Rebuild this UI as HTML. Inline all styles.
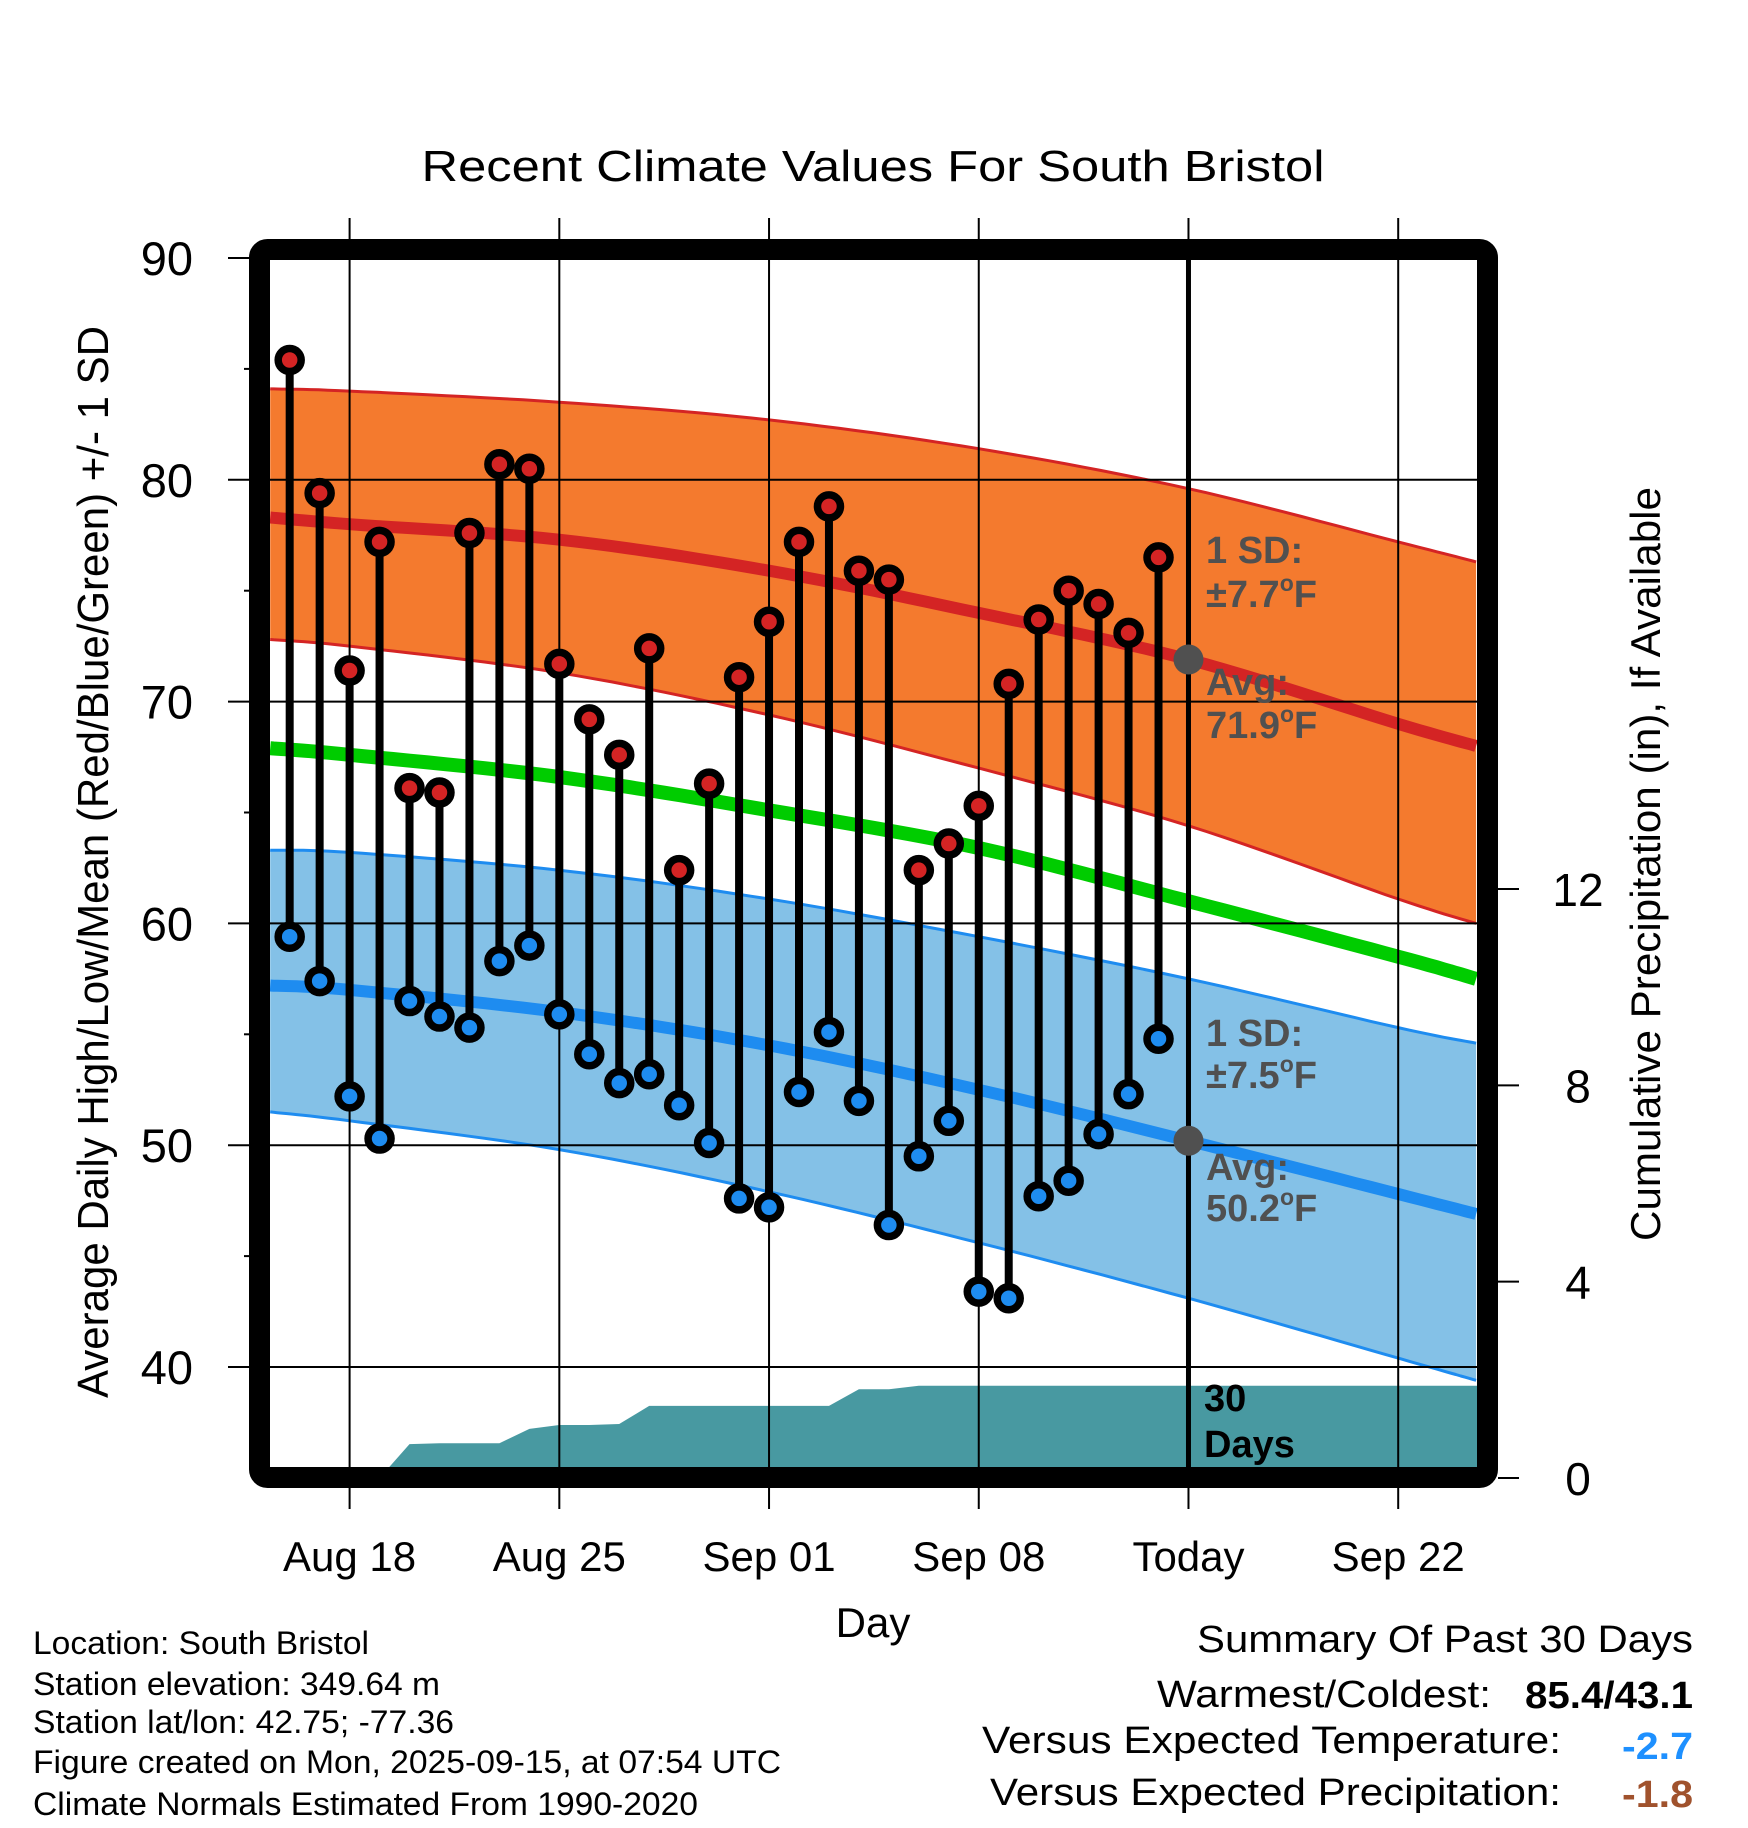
<!DOCTYPE html>
<html><head><meta charset="utf-8"><title>Recent Climate Values For South Bristol</title>
<style>html,body{margin:0;padding:0;background:#fff}svg{display:block}text{font-family:"Liberation Sans",Arial,sans-serif}</style>
</head><body>
<svg id="chart" xmlns="http://www.w3.org/2000/svg" width="1748" height="1828" viewBox="0 0 1748 1828">
<defs><clipPath id="plotclip"><rect x="270" y="260" width="1208" height="1208"/></clipPath></defs>
<rect width="1748" height="1828" fill="#fff"/>
<text x="873" y="181" font-size="44" text-anchor="middle" textLength="903" lengthAdjust="spacingAndGlyphs">Recent Climate Values For South Bristol</text>
<g id="bands" clip-path="url(#plotclip)"></g>
<g id="grid"></g>
<g id="marks"></g>
<g id="axes"></g>
<text transform="translate(108,862) rotate(-90)" font-size="44" text-anchor="middle" textLength="1072" lengthAdjust="spacingAndGlyphs">Average Daily High/Low/Mean (Red/Blue/Green) +/- 1 SD</text>
<text transform="translate(1660,864) rotate(-90)" font-size="42" text-anchor="middle" textLength="754" lengthAdjust="spacingAndGlyphs">Cumulative Precipitation (in), If Available</text>
<text x="873" y="1637" font-size="42" text-anchor="middle">Day</text>
<g font-weight="bold" font-size="38" fill="#505050">
<text x="1206" y="563">1 SD:</text>
<text x="1206" y="607">±7.7<tspan font-size="23" dy="-16">o</tspan><tspan dy="16">F</tspan></text>
<text x="1206" y="695">Avg:</text>
<text x="1206" y="738">71.9<tspan font-size="23" dy="-16">o</tspan><tspan dy="16">F</tspan></text>
</g>
<g font-weight="bold" font-size="38" fill="#505050">
<text x="1206" y="1046">1 SD:</text>
<text x="1206" y="1088">±7.5<tspan font-size="23" dy="-16">o</tspan><tspan dy="16">F</tspan></text>
<text x="1206" y="1180">Avg:</text>
<text x="1206" y="1221">50.2<tspan font-size="23" dy="-16">o</tspan><tspan dy="16">F</tspan></text>
</g>
<g font-weight="bold" font-size="38" fill="#000">
<text x="1204" y="1411">30</text>
<text x="1204" y="1457">Days</text>
</g>
<g font-size="32">
<text x="33" y="1654" textLength="336" lengthAdjust="spacingAndGlyphs">Location: South Bristol</text>
<text x="33" y="1695" textLength="407" lengthAdjust="spacingAndGlyphs">Station elevation: 349.64 m</text>
<text x="33" y="1733" textLength="421" lengthAdjust="spacingAndGlyphs">Station lat/lon: 42.75; -77.36</text>
<text x="33" y="1773" textLength="748" lengthAdjust="spacingAndGlyphs">Figure created on Mon, 2025-09-15, at 07:54 UTC</text>
<text x="33" y="1815" textLength="665" lengthAdjust="spacingAndGlyphs">Climate Normals Estimated From 1990-2020</text>
</g>
<g font-size="38">
<text x="1693" y="1652" text-anchor="end" textLength="496" lengthAdjust="spacingAndGlyphs">Summary Of Past 30 Days</text>
<text x="1491" y="1707" text-anchor="end" textLength="334" lengthAdjust="spacingAndGlyphs">Warmest/Coldest:</text>
<text x="1693" y="1708" text-anchor="end" font-weight="bold" textLength="168" lengthAdjust="spacingAndGlyphs">85.4/43.1</text>
<text x="1561" y="1753" text-anchor="end" textLength="579" lengthAdjust="spacingAndGlyphs">Versus Expected Temperature:</text>
<text x="1693" y="1759" text-anchor="end" font-weight="bold" fill="#1e90ff" textLength="71" lengthAdjust="spacingAndGlyphs">-2.7</text>
<text x="1561" y="1805" text-anchor="end" textLength="571" lengthAdjust="spacingAndGlyphs">Versus Expected Precipitation:</text>
<text x="1693" y="1807" text-anchor="end" font-weight="bold" fill="#a0522d" textLength="71" lengthAdjust="spacingAndGlyphs">-1.8</text>
</g>
</svg>
<script>
// ---- data ----
var obsDays = [-2,-1,0,1,2,3,4,5,6,7,8,9,10,11,12,13,14,15,16,17,18,19,20,21,22,23,24,25,26,27];
var highs = [85.4,79.4,71.4,77.2,66.1,65.9,77.6,80.7,80.5,71.7,69.2,67.6,72.4,62.4,66.3,71.1,73.6,77.2,78.8,75.9,75.5,62.4,63.6,65.3,70.8,73.7,75.0,74.4,73.1,76.5];
var lows = [59.4,57.4,52.2,50.3,56.5,55.8,55.3,58.3,59.0,55.9,54.1,52.8,53.2,51.8,50.1,47.6,47.2,52.4,55.1,52.0,46.4,49.5,51.1,43.4,43.1,47.7,48.4,50.5,52.3,54.8];
var precip = [0,0,0,0,0.69,0.71,0.71,0.71,1.0,1.08,1.08,1.1,1.47,1.47,1.47,1.47,1.47,1.47,1.47,1.81,1.81,1.88,1.88,1.88,1.88,1.88,1.88,1.88,1.88,1.88];
var normDays = [-2.65,0,7,14,21,28,35,37.6];
var avgHigh = [78.3,78.0,77.3,75.9,74.0,71.9,69.0,68.0];
var upperHigh = [84.1,84.0,83.5,82.7,81.4,79.6,77.2,76.3];
var lowerHigh = [72.8,72.5,71.3,69.4,67.0,64.4,61.1,60.0];
var avgMean = [67.9,67.6,66.6,65.1,63.4,61.0,58.5,57.5];
var avgLow = [57.2,57.0,56.0,54.5,52.5,50.2,47.8,46.9];
var upperLow = [63.3,63.2,62.4,61.1,59.4,57.5,55.3,54.6];
var lowerLow = [51.5,51.1,49.8,47.9,45.6,43.1,40.4,39.4];
var xTickDays = [0,7,14,21,28,35];
var xTickLabels = ["Aug 18","Aug 25","Sep 01","Sep 08","Today","Sep 22"];
var yTicks = [40,50,60,70,80,90];
var yMinorTicks = [45,55,65,75,85];
var y2Ticks = [0,4,8,12];
var todayDay = 28;
var todayHigh = 71.9, todayLow = 50.2;

// ---- axes functions ----
function X(d){ return 349.6 + 29.96*d; }
function Y(v){ return 258 + (90 - v)*22.18; }
function Y2(p){ return 1478 - p*49.08; }
var NS = "http://www.w3.org/2000/svg";
function mk(tag, parent, attrs){ var e=document.createElementNS(NS,tag); for(var k in attrs) e.setAttribute(k,attrs[k]); parent.appendChild(e); return e; }
// smooth drawing through data points (Catmull-Rom sampling in pixel space)
function pts(days, vals){
  var P = days.map(function(d,i){ return [X(d), Y(vals[i])]; });
  var out = [];
  for (var i=0;i<P.length-1;i++){
    var p0=P[Math.max(i-1,0)], p1=P[i], p2=P[i+1], p3=P[Math.min(i+2,P.length-1)];
    for (var s=0;s<12;s++){
      var t=s/12, t2=t*t, t3=t2*t;
      var x=0.5*((2*p1[0])+(-p0[0]+p2[0])*t+(2*p0[0]-5*p1[0]+4*p2[0]-p3[0])*t2+(-p0[0]+3*p1[0]-3*p2[0]+p3[0])*t3);
      var y=0.5*((2*p1[1])+(-p0[1]+p2[1])*t+(2*p0[1]-5*p1[1]+4*p2[1]-p3[1])*t2+(-p0[1]+3*p1[1]-3*p2[1]+p3[1])*t3);
      out.push(x.toFixed(1)+","+y.toFixed(1));
    }
  }
  var L=P[P.length-1]; out.push(L[0].toFixed(1)+","+L[1].toFixed(1));
  return out;
}

var bands = document.getElementById("bands");
var grid = document.getElementById("grid");
var marks = document.getElementById("marks");
var axes = document.getElementById("axes");

// precip area
var pp = obsDays.map(function(d,i){ return X(d).toFixed(1)+","+Y2(precip[i]).toFixed(1); });
pp.push("1478,"+Y2(precip[precip.length-1]).toFixed(1));
pp.push("1478,1490"); pp.push(X(obsDays[0]).toFixed(1)+",1490");
var pa = mk("polygon", bands, {points: pp.join(" "), fill:"#4899a1"});



// bands
var hb = mk("polygon", bands, {points: pts(normDays, upperHigh).concat(pts(normDays, lowerHigh).reverse()).join(" "), fill:"#f47a2e"});


var lb = mk("polygon", bands, {points: pts(normDays, upperLow).concat(pts(normDays, lowerLow).reverse()).join(" "), fill:"#84c1e7"});


function line(vals, color, w, name){
  var l = mk("polyline", bands, {points: pts(normDays, vals).join(" "), fill:"none", stroke:color, "stroke-width":w, "stroke-linejoin":"round"});
  
  
}
line(upperHigh, "#d42424", 3, "high-upper-sd-line");
line(lowerHigh, "#d42424", 3, "high-lower-sd-line");
line(upperLow, "#1e8cf0", 3, "low-upper-sd-line");
line(lowerLow, "#1e8cf0", 3, "low-lower-sd-line");
line(avgHigh, "#d42424", 12, "avg-high-line");
line(avgMean, "#00cc00", 14, "avg-mean-line");
line(avgLow, "#1e8cf0", 12, "avg-low-line");

// grid
xTickDays.forEach(function(d){
  var g = mk("line", grid, {x1:X(d), x2:X(d), y1:218, y2:1509, stroke:"#000", "stroke-width":2});
  
  
});
yTicks.forEach(function(v){
  var g = mk("line", grid, {x1:228, x2:1478, y1:Y(v), y2:Y(v), stroke:"#000", "stroke-width":2});
  
  
});
yMinorTicks.forEach(function(v){
  var g = mk("line", grid, {x1:244, x2:252, y1:Y(v), y2:Y(v), stroke:"#000", "stroke-width":2});
  
  
});
var tl = mk("line", grid, {x1:X(todayDay), x2:X(todayDay), y1:260, y2:1468, stroke:"#000", "stroke-width":5});



// observations
obsDays.forEach(function(d,i){
  var s = mk("line", marks, {x1:X(d), x2:X(d), y1:Y(highs[i]), y2:Y(lows[i]), stroke:"#000", "stroke-width":8});
  
  
});
obsDays.forEach(function(d,i){
  var h = mk("circle", marks, {cx:X(d), cy:Y(highs[i]), r:11.5, fill:"#d42424", stroke:"#000", "stroke-width":7.5});
  
  
  var l = mk("circle", marks, {cx:X(d), cy:Y(lows[i]), r:11.5, fill:"#1e8cf0", stroke:"#000", "stroke-width":7.5});
  
  
});
var th = mk("circle", marks, {cx:X(todayDay), cy:Y(todayHigh), r:15, fill:"#505050"});


var tlw = mk("circle", marks, {cx:X(todayDay), cy:Y(todayLow), r:15, fill:"#505050"});



// frame
var fr = mk("rect", axes, {x:259.5, y:249.5, width:1228, height:1228, rx:8, fill:"none", stroke:"#000", "stroke-width":21});



// y labels
yTicks.forEach(function(v){
  var t = mk("text", axes, {x:193, y:Y(v)+17, "font-size":47, "text-anchor":"end"});
  t.textContent = v;
  
  
});
// y2 ticks
y2Ticks.forEach(function(p){
  var k = mk("line", axes, {x1:1498, x2:1519, y1:Y2(p), y2:Y2(p), stroke:"#000", "stroke-width":2});
  
  
  var t = mk("text", axes, {x:1578, y:Y2(p)+17, "font-size":46, "text-anchor":"middle"});
  t.textContent = p;
  
  
});
// x labels
xTickDays.forEach(function(d,i){
  var t = mk("text", axes, {x:X(d), y:1571, "font-size":42, "text-anchor":"middle"});
  t.textContent = xTickLabels[i];
  
  
});
</script>
</body></html>
